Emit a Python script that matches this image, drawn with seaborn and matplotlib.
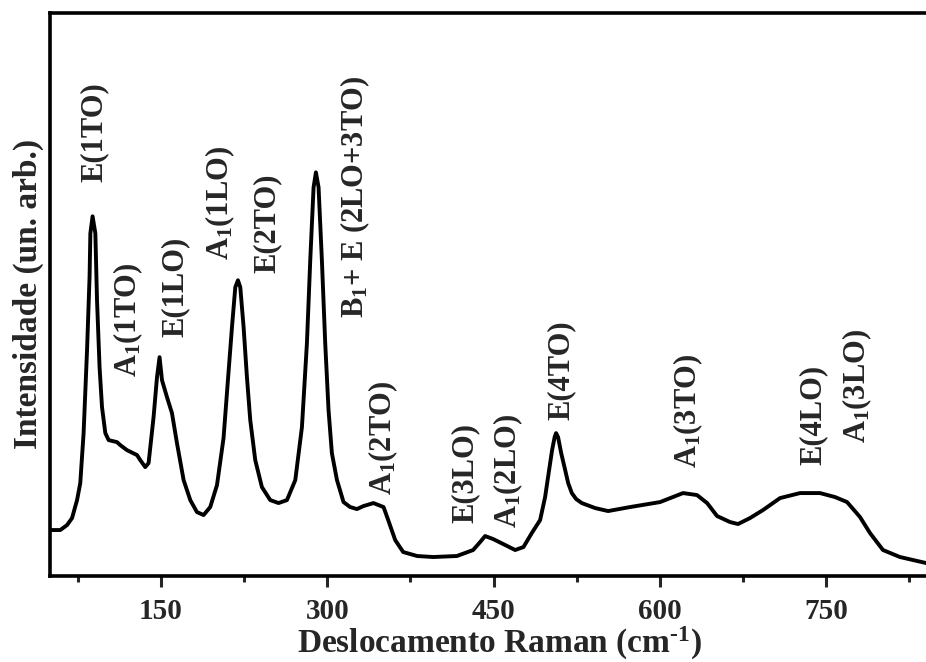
import matplotlib
matplotlib.use("Agg")
import matplotlib.pyplot as plt
from matplotlib.ticker import MultipleLocator, FixedLocator
import seaborn as sns
import pandas as pd

# Raman shift (cm-1) and intensity (arb. units)
shift = [51.8, 59.3, 65.4, 69.9, 74.4, 77.3, 80.3, 83.4, 85.7, 86.4, 88.4, 90.9, 92.4, 94.7, 96.9,
         99.9, 102.9, 110.4, 113.4, 119.4, 128.5, 131.4, 135.9, 138.9, 143.4, 146.5, 148.8,
         151.0, 155.5, 160.0, 164.5, 170.5, 176.5, 182.5, 188.5, 194.5, 200.6, 206.5, 211.0,
         214.1, 217.1, 219.5, 221.6, 224.6, 227.6, 230.6, 235.1, 241.1, 248.6, 256.1, 263.7,
         271.2, 277.2, 281.7, 284.7, 287.7, 289.8, 292.2, 295.2, 298.2, 301.2, 304.2, 308.8,
         314.7, 320.7, 326.8, 332.7, 341.7, 350.8, 355.0, 361.3, 368.5, 381.1, 395.6, 416.9,
         431.6, 437.9, 442.4, 449.6, 458.7, 469.5, 477.0, 484.5, 492.0, 496.5, 500.1, 502.8,
         505.1, 506.4, 508.2, 511.0, 514.6, 517.3, 520.6, 524.5, 529.6, 541.6, 553.3, 573.1,
         600.2, 620.9, 633.5, 642.6, 651.6, 663.3, 670.5, 681.3, 693.0, 708.4, 726.4, 744.4,
         758.0, 768.8, 780.5, 789.5, 801.2, 816.5, 840.0]
intensity = [46, 46, 51, 58, 76, 93, 143, 226, 300, 343, 360, 343, 276, 209, 169,
             143, 136, 134, 131, 126, 121, 116, 109, 113, 159, 199, 219,
             196, 179, 163, 133, 96, 76, 64, 61, 69, 91, 138, 204,
             249, 289, 296, 289, 249, 199, 156, 116, 89, 76, 73, 76,
             96, 149, 233, 316, 389, 404, 389, 316, 233, 166, 123, 96,
             74, 69, 67, 70, 73, 69, 56, 36, 24, 20, 19, 20,
             26, 34, 40, 37, 32, 26, 29, 43, 56, 79, 106, 126,
             139, 143, 139, 123, 106, 93, 83, 77, 73, 68, 65, 69,
             74, 83, 81, 73, 60, 54, 52, 58, 66, 78, 83, 83,
             79, 74, 59, 43, 26, 19, 13]

# Peak assignments
peak_labels = ["E(1TO)", r"A$_1$(1TO)", "E(1LO)", r"A$_1$(1LO)", "E(2TO)",
               r"B$_1$+ E (2LO+3TO)", r"A$_1$(2TO)", "E(3LO)", r"A$_1$(2LO)",
               "E(4TO)", r"A$_1$(3TO)", "E(4LO)", r"A$_1$(3LO)"]
label_x = [90.0, 120.2, 163.0, 203.5, 245.5, 325.7, 350.9, 424.4, 463.6, 511.4, 625.9, 738.6, 778.2]
label_y = [394, 199, 239, 316, 303, 258, 81, 53, 48, 156, 108, 111, 133]

major_ticks = [150, 300, 450, 600, 750]

sns.set_style("ticks")
plt.rcParams["font.family"] = ["Liberation Serif", "DejaVu Serif"]
plt.rcParams["font.weight"] = "bold"
plt.rcParams["mathtext.fontset"] = "custom"
plt.rcParams["mathtext.rm"] = "Liberation Serif:bold"
plt.rcParams["mathtext.bf"] = "Liberation Serif:bold"
plt.rcParams["mathtext.it"] = "Liberation Serif:bold"
plt.rcParams["mathtext.default"] = "bf"

df = pd.DataFrame({"shift": shift, "intensity": intensity})

fig = plt.figure(figsize=(9.26, 6.62), dpi=100)
ax = fig.add_axes([50 / 926, 1 - 576 / 662, 1 - 50 / 926, (576 - 12.5) / 662])

sns.lineplot(data=df, x="shift", y="intensity", ax=ax, color="black", linewidth=2.8,
             sort=False, solid_joinstyle="round", solid_capstyle="round")

ax.set_xlim(50, 840)
ax.set_ylim(0, 564)

for t, x, y in zip(peak_labels, label_x, label_y):
    ax.text(x, y, t, rotation=90, ha="center", va="bottom", fontsize=22, fontweight="bold")

ax.xaxis.set_major_locator(FixedLocator(major_ticks))
ax.xaxis.set_minor_locator(MultipleLocator(75))
ax.set_yticks([])
ax.tick_params(axis="x", which="major", direction="out", length=8, width=2.2,
               labelsize=21, pad=8, top=False)
ax.tick_params(axis="x", which="minor", direction="out", length=4.5, width=2.2, top=False)
for lab in ax.get_xticklabels():
    lab.set_fontweight("bold")

for side in ["left", "bottom", "top"]:
    ax.spines[side].set_linewidth(2.6)
    ax.spines[side].set_color("black")
ax.spines["right"].set_visible(False)

ax.set_xlabel(r"Deslocamento Raman (cm$^{\text{-1}}$)", fontsize=24, fontweight="bold")
ax.set_ylabel("Intensidade (un. arb.)", fontsize=24, fontweight="bold", labelpad=4)
ax.xaxis.set_label_coords((499 - 50) / 876, -0.087)

fig.savefig("out.png", dpi=100)
